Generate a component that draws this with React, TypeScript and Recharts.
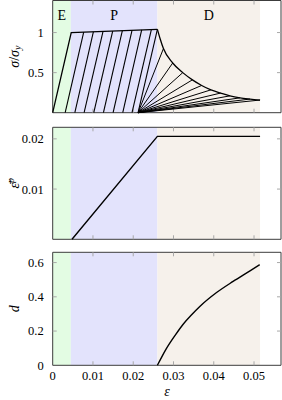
import { LineChart, Line, XAxis, YAxis, ReferenceArea, ReferenceLine } from "recharts";

const FONT = '"Liberation Serif", "DejaVu Serif", serif';
const X_MAX = 0.0567;

// regions on the strain axis: elastic, plastic, damage
const regionNames = ["E", "P", "D"];
const regionStart = [0, 0.0045, 0.026];
const regionEnd = [0.0045, 0.026, 0.0515];
const regionColors = ["#e3fce3", "#e3e3fc", "#f6f1eb"];

const strainTicks = [0, 0.01, 0.02, 0.03, 0.04, 0.05];

// stress: elastic + hardening branch
const loadStrain = [0, 0.0046, 0.026];
const loadStress = [0, 1, 1.04];

// stress: softening branch
const softStrain = [0.026, 0.0267, 0.0275, 0.0298, 0.0323, 0.0347, 0.037, 0.0393, 0.0417, 0.044, 0.0465, 0.049, 0.0515];
const softStress = [1.04, 0.92, 0.8, 0.62, 0.5, 0.41, 0.34, 0.285, 0.245, 0.21, 0.185, 0.17, 0.158];

// elastic unloading lines in the plastic region
const unloadTopStrain = [0.0077, 0.0101, 0.0125, 0.0149, 0.0173, 0.0197, 0.0221, 0.0245, 0.026];
const unloadTopStress = [1.006, 1.01, 1.015, 1.019, 1.024, 1.028, 1.033, 1.037, 1.04];
const unloadBottomStrain = [0.0031, 0.0055, 0.0078, 0.0102, 0.0126, 0.015, 0.0174, 0.0197, 0.0212];

// secant unloading lines in the damage region
const damagePivot = 0.0212;
const secantStrain = [0.0275, 0.0298, 0.0323, 0.0347, 0.037, 0.0393, 0.0417, 0.044, 0.0465, 0.049, 0.0515];
const secantStress = [0.8, 0.62, 0.5, 0.41, 0.34, 0.285, 0.245, 0.21, 0.185, 0.17, 0.158];

// plastic strain
const plasticStrainX = [0.0048, 0.026, 0.0515];
const plasticStrainY = [0, 0.0205, 0.0205];

// damage variable
const damageStrain = [0.026, 0.027, 0.0283, 0.0304, 0.0324, 0.0345, 0.0366, 0.0407, 0.0448, 0.049, 0.0514];
const damageValue = [0, 0.045, 0.1, 0.175, 0.24, 0.295, 0.345, 0.425, 0.49, 0.552, 0.588];

const pts = (xs: number[], ys: number[]) => xs.map((e, i) => ({ e, v: ys[i] }));

const AXIS = "#3c3c3c";
const TICK = "#a8a8a8";

const XTitle = () => (
  <text x={167} y={145} textAnchor="middle" fontFamily={FONT} fontSize={14} fontStyle="italic">
    ε
  </text>
);

const YTitle = ({ cy0, body }: { cy0: number; body: React.ReactNode }) => (
  <text
    x={14}
    y={cy0}
    transform={`rotate(-90, 14, ${cy0})`}
    textAnchor="middle"
    dominantBaseline="central"
    fontFamily={FONT}
    fontSize={14}
  >
    {body}
  </text>
);

type PanelProps = {
  top: number;
  plotTop: number;
  plotBottom: number;
  svgHeight: number;
  yDomain: [number, number];
  yTicks: number[];
  yTitle: React.ReactNode;
  showX?: boolean;
  labels?: boolean;
  children: React.ReactNode;
};

const Panel = ({ top, plotTop, plotBottom, svgHeight, yDomain, yTicks, yTitle, showX, labels, children }: PanelProps) => {
  const mTop = plotTop - top;
  const rest = svgHeight - (plotBottom - top);
  const xH = showX ? rest : 0;
  const mBottom = showX ? 0 : rest;
  const cy = (plotTop + plotBottom) / 2 - top;
  // inward tick length in data units (about 4px)
  const ty = ((yDomain[1] - yDomain[0]) * 4) / (plotBottom - plotTop);
  const tx = (X_MAX * 4) / 228.3;

  return (
    <div style={{ position: "absolute", left: 0, top, fontFamily: FONT }}>
      <LineChart
        width={282}
        height={svgHeight}
        margin={{ top: mTop, right: 1, bottom: mBottom, left: 0 }}
        style={{ fontFamily: FONT }}
      >
        {regionNames.map((n, i) => (
          <ReferenceArea
            key={n}
            x1={regionStart[i]}
            x2={regionEnd[i]}
            fill={regionColors[i]}
            fillOpacity={1}
            stroke="none"
            label={labels ? { value: n, position: "insideTop", offset: 10, fill: "#000", fontSize: 14, fontFamily: FONT } : undefined}
          />
        ))}
        <XAxis
          type="number"
          dataKey="e"
          domain={[0, X_MAX]}
          ticks={strainTicks}
          height={xH}
          tickSize={0}
          tickMargin={6}
          axisLine={false}
          tickLine={false}
          tick={showX ? { fill: "#000", fontSize: 12.5, fontFamily: FONT } : false}
          label={showX ? <XTitle /> : undefined}
        />
        <YAxis
          type="number"
          domain={yDomain}
          ticks={yTicks}
          width={52.7}
          tickSize={0}
          tickMargin={9}
          axisLine={false}
          tickLine={false}
          tick={{ fill: "#000", fontSize: 12.5, fontFamily: FONT }}
          label={<YTitle cy0={cy} body={yTitle} />}
        />
        {strainTicks.slice(1).map((t) => (
          <ReferenceLine key={`xb${t}`} segment={[{ x: t, y: yDomain[0] }, { x: t, y: yDomain[0] + ty }]} stroke={TICK} />
        ))}
        {strainTicks.slice(1).map((t) => (
          <ReferenceLine key={`xt${t}`} segment={[{ x: t, y: yDomain[1] }, { x: t, y: yDomain[1] - ty }]} stroke={TICK} />
        ))}
        {yTicks.slice(1).map((t) => (
          <ReferenceLine key={`yl${t}`} segment={[{ x: 0, y: t }, { x: tx, y: t }]} stroke={TICK} />
        ))}
        {yTicks.slice(1).map((t) => (
          <ReferenceLine key={`yr${t}`} segment={[{ x: X_MAX, y: t }, { x: X_MAX - tx, y: t }]} stroke={TICK} />
        ))}
        {children}
        <ReferenceArea x1={0} x2={X_MAX} y1={yDomain[0]} y2={yDomain[1]} fill="none" stroke={AXIS} strokeWidth={1} />
      </LineChart>
    </div>
  );
};

const seg = (key: string, data: { e: number; v: number }[], width = 1, type: "linear" | "monotone" = "linear") => (
  <Line
    key={key}
    data={data}
    dataKey="v"
    type={type}
    stroke="#000"
    strokeWidth={width}
    dot={false}
    activeDot={false}
    isAnimationActive={false}
  />
);

export default function App() {
  return (
    <div style={{ position: "absolute", left: 0, top: 0, width: 282, height: 400, background: "#fff" }}>
      <Panel
        top={0}
        plotTop={0.5}
        plotBottom={112.7}
        svgHeight={114}
        yDomain={[0, 1.4]}
        yTicks={[0, 0.5, 1]}
        labels
        yTitle={
          <>
            <tspan fontStyle="italic">σ</tspan>
            <tspan>/</tspan>
            <tspan fontStyle="italic">σ</tspan>
            <tspan fontStyle="italic" fontSize={10} dy={3}>
              y
            </tspan>
          </>
        }
      >
        {unloadTopStrain.map((e, i) =>
          seg(`u${i}`, pts([unloadBottomStrain[i], e], [0, unloadTopStress[i]]), 1.1)
        )}
        {secantStrain.map((e, i) => seg(`s${i}`, pts([damagePivot, e], [0, secantStress[i]]), 1))}
        {seg("load", pts(loadStrain, loadStress), 1.3)}
        {seg("soft", pts(softStrain, softStress), 1.3, "monotone")}
      </Panel>

      <Panel
        top={126}
        plotTop={127.3}
        plotBottom={239.3}
        svgHeight={114}
        yDomain={[0, 0.0223]}
        yTicks={[0, 0.01, 0.02]}
        yTitle={
          <>
            <tspan fontStyle="italic">ε̄</tspan>
            <tspan fontStyle="italic" fontSize={10} dy={-4}>
              p
            </tspan>
          </>
        }
      >
        {seg("ep", pts(plasticStrainX, plasticStrainY), 1.4)}
      </Panel>

      <Panel
        top={251}
        plotTop={252.3}
        plotBottom={365.3}
        svgHeight={149}
        yDomain={[0, 0.66]}
        yTicks={[0, 0.2, 0.4, 0.6]}
        showX
        yTitle={<tspan fontStyle="italic">d</tspan>}
      >
        {seg("d", pts(damageStrain, damageValue), 1.4, "monotone")}
      </Panel>
    </div>
  );
}
